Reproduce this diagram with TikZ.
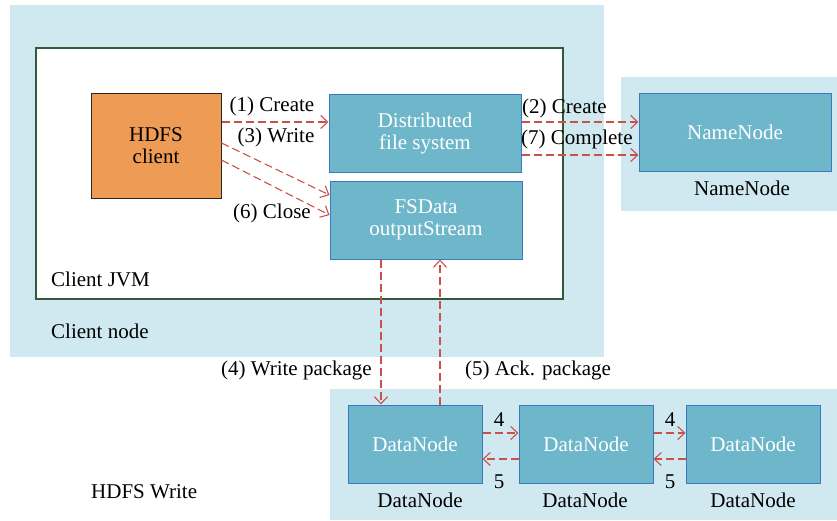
\documentclass[tikz,border=0pt]{standalone}
\usepackage{fontspec}
\setmainfont{Liberation Serif}
\usetikzlibrary{arrows.meta}
\definecolor{nodebg}{HTML}{D0E8EF}
\definecolor{boxfill}{HTML}{6EB6CA}
\definecolor{boxedge}{HTML}{3A78C0}
\definecolor{flow}{HTML}{C9514C}
\definecolor{clientfill}{HTML}{ED9B55}
\definecolor{jvmedge}{HTML}{2F5A3C}

\begin{document}
\begin{tikzpicture}[x=1pt,y=-1pt,
  font=\fontsize{21}{22}\selectfont,
  region/.style={fill=nodebg, draw=none},
  proc/.style={draw=boxedge, line width=1pt, fill=boxfill, text=white,
    align=center, inner sep=0pt, minimum width=192pt, minimum height=78pt},
  dnode/.style={proc, minimum width=134pt},
  flowarrow/.style={draw=flow, line width=1.1pt, dash pattern=on 8pt off 4pt,
    -{Straight Barb[length=7pt,width=13pt]}},
  lbl/.style={inner sep=0pt, text=black}
]
\useasboundingbox (0,0) rectangle (837,520);

% host regions
\fill[nodebg] (10,5) rectangle (604,357);
\fill[nodebg] (621,77) rectangle (837,211);
\fill[nodebg] (330,389) rectangle (837,520);

% client JVM frame
\draw[jvmedge, line width=1.3pt, fill=white] (36,48) rectangle (563,299);

% components
\node[draw=black!85, line width=1pt, fill=clientfill, align=center,
  minimum width=130pt, minimum height=105pt, inner sep=0pt]
  (client) at (156,145.5) {HDFS\\client};
\node[proc] (dfs) at (425,133) {Distributed\\file system};
\node[proc] (fsout) at (426,220) {FSData\\outputStream};
\node[proc] (nn) at (735,132) {NameNode};
\node[dnode] (dn1) at (415,444) {DataNode};
\node[dnode] (dn2) at (586,444) {DataNode};
\node[dnode] (dn3) at (753,444) {DataNode};

% client calls
\draw[flowarrow] ([yshift=23.5pt]client.east) -- ([yshift=11pt]dfs.west);
\draw[flowarrow] ([yshift=2.5pt]client.east) -- ([yshift=25pt]fsout.west);
\draw[flowarrow] ([yshift=-14.5pt]client.east) -- ([yshift=5pt]fsout.west);
\node[lbl] (l1) at (272,106) {(1) Create};
\node[lbl] (l3) at (276,137) {(3) Write};
\node[lbl] (l6) at (272,213) {(6) Close};

% file system to name node
\draw[flowarrow] ([yshift=11pt]dfs.east) -- ([yshift=10pt]nn.west);
\draw[flowarrow] ([yshift=-22pt]dfs.east) -- ([yshift=-23pt]nn.west);
\node[lbl, anchor=west] (l2) at (522,108) {(2) Create};
\node[lbl, anchor=west] (l7) at (521,139) {(7) Complete};

% stream to pipeline
\draw[flowarrow] ([xshift=-45pt]fsout.south) -- ([xshift=-34pt]dn1.north);
\draw[flowarrow] ([xshift=25pt]dn1.north) -- ([xshift=14pt]fsout.south);
\node[lbl, anchor=east] (l4) at (372,370) {(4) Write package};
\node[lbl, anchor=west] (l5) at (465,370) {(5) Ack. package};

% pipeline between data nodes
\draw[flowarrow] ([yshift=11pt]dn1.east) -- ([yshift=11pt]dn2.west);
\draw[flowarrow] ([yshift=-15pt]dn2.west) -- ([yshift=-15pt]dn1.east);
\draw[flowarrow] ([yshift=11pt]dn2.east) -- ([yshift=11pt]dn3.west);
\draw[flowarrow] ([yshift=-15pt]dn3.west) -- ([yshift=-15pt]dn2.east);
\node[lbl] (p4a) at (499,420) {4};
\node[lbl] (p5a) at (499,482) {5};
\node[lbl] (p4b) at (670,420) {4};
\node[lbl] (p5b) at (670,482) {5};

% captions
\node[lbl] (cnn) at (742,188) {NameNode};
\node[lbl] (cdn1) at (420,500) {DataNode};
\node[lbl] (cdn2) at (585,500) {DataNode};
\node[lbl] (cdn3) at (753,500) {DataNode};
\node[lbl, anchor=west] (cjvm) at (51,279) {Client JVM};
\node[lbl, anchor=west] (cnode) at (51,331) {Client node};
\node[lbl, anchor=west] (cwrite) at (91,492) {HDFS Write};
\end{tikzpicture}
\end{document}
